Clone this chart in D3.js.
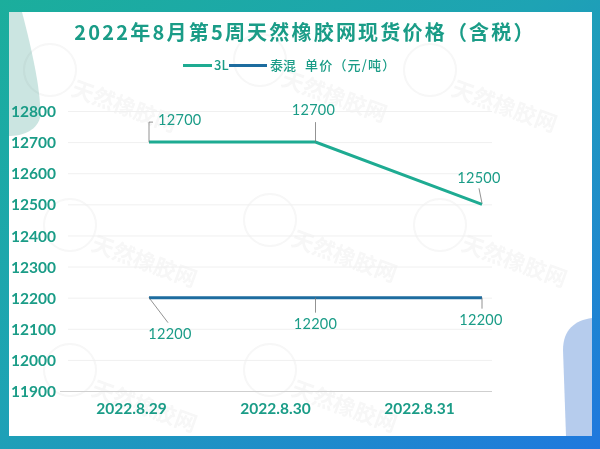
<!DOCTYPE html>
<html><head><meta charset="utf-8">
<script src="https://cdn.jsdelivr.net/npm/d3@7"></script>
<style>
html,body{margin:0;padding:0;background:#fff;}
svg{display:block;}
</style></head>
<body>
<script>
const categories = ["2022.8.29", "2022.8.30", "2022.8.31"];
const seriesNames = ["3L", "泰混"];
const values3L = [12700, 12700, 12500];
const valuesTH = [12200, 12200, 12200];
const yTicks = [11900, 12000, 12100, 12200, 12300, 12400, 12500, 12600, 12700, 12800];
const title = "2022年8月第5周天然橡胶网现货价格（含税）";
const unitText = "单价（元/吨）";

const W = 600, H = 449;
const colors = {"3L": "#1eab92", "泰混": "#1d6c9f"};
const textTeal = "#1a9c87";

const svg = d3.select("body").append("svg").attr("width", W).attr("height", H);
const defs = svg.append("defs");
const g1 = defs.append("linearGradient").attr("id", "frame").attr("x1", 0).attr("y1", 0).attr("x2", 1).attr("y2", 1);
g1.append("stop").attr("offset", "0%").attr("stop-color", "#1bae9c");
g1.append("stop").attr("offset", "45%").attr("stop-color", "#1ea3b4");
g1.append("stop").attr("offset", "100%").attr("stop-color", "#1f78de");

svg.append("rect").attr("width", W).attr("height", H).attr("fill", "url(#frame)");
svg.append("rect").attr("x", 9).attr("y", 12).attr("width", 583).attr("height", 424).attr("fill", "#ffffff");

// decorative shapes
svg.append("path").attr("d", "M9,12 L22,12 C32,50 42,95 40,118 C36,132 20,136 9,136 Z").attr("fill", "#b9dcd7").attr("opacity", 0.75);
svg.append("path").attr("d", "M592,318 C575,320 563,330 563,350 L566,436 L592,436 Z").attr("fill", "#a9c3ea").attr("opacity", 0.85);

// faint watermarks
const wm = [[70,95],[280,85],[450,95],[90,250],[290,245],[460,250],[90,395],[290,395]];
const wmg = svg.append("g").attr("opacity", 0.045);
wm.forEach(([x,y]) => {
  wmg.append("circle").attr("cx", x-20).attr("cy", y-25).attr("r", 26).attr("fill", "none").attr("stroke", "#444").attr("stroke-width", 2);
  wmg.append("text").attr("x", x).attr("y", y).attr("transform", `rotate(20,${x},${y})`)
    .attr("font-family", "Noto Sans CJK SC").attr("font-size", 22).attr("font-weight", 700).attr("fill", "#444").text("天然橡胶网");
});

// title
svg.append("text").attr("x", 305).attr("y", 40).attr("text-anchor", "middle")
  .attr("font-family", "Noto Sans CJK SC").attr("font-weight", 700).attr("font-size", 20)
  .attr("letter-spacing", 2.2).attr("fill", textTeal).text(title);

// legend
const lg = svg.append("g");
lg.append("line").attr("x1", 183).attr("x2", 212).attr("y1", 65.5).attr("y2", 65.5).attr("stroke", colors["3L"]).attr("stroke-width", 3);
lg.append("text").attr("x", 214).attr("y", 70).attr("font-family", "Noto Sans CJK SC").attr("font-weight", 500).attr("font-size", 13).attr("fill", textTeal).text(seriesNames[0]);
lg.append("line").attr("x1", 229).attr("x2", 267).attr("y1", 65.5).attr("y2", 65.5).attr("stroke", colors["泰混"]).attr("stroke-width", 3);
lg.append("text").attr("x", 270).attr("y", 70).attr("font-family", "Noto Sans CJK SC").attr("font-weight", 500).attr("font-size", 13).attr("fill", textTeal).text(seriesNames[1]);
lg.append("text").attr("x", 305).attr("y", 70).attr("font-family", "Noto Sans CJK SC").attr("font-weight", 500).attr("font-size", 13).attr("letter-spacing", 1.2).attr("fill", textTeal).text(unitText);

// scales
const y = d3.scaleLinear().domain([11900, 12800]).range([391, 111]);
const x = d3.scalePoint().domain(categories).range([149, 482]);
const xLab = d3.scalePoint().domain(categories).range([131, 419]);

// grid
svg.append("g").selectAll("line").data(yTicks).join("line")
  .attr("x1", d => d === 11900 ? 60 : 68).attr("x2", 492)
  .attr("y1", d => y(d) + 0.5).attr("y2", d => y(d) + 0.5)
  .attr("stroke", d => d === 11900 ? "#cfcfcf" : "#f0f0f0").attr("stroke-width", 1);

// y axis
const yAxis = d3.axisLeft(y).tickValues(yTicks).tickSize(0).tickPadding(0).tickFormat(d3.format("d"));
const ya = svg.append("g").attr("transform", "translate(56,0)").call(yAxis);
ya.select(".domain").remove();
ya.selectAll("text").attr("font-family", "Lato").attr("font-weight", 700).attr("font-size", 15.5)
  .attr("fill", textTeal).attr("dy", "0.36em");

// x axis labels
const xAxis = d3.axisBottom(xLab).tickSize(0).tickPadding(0);
const xa = svg.append("g").attr("transform", "translate(0,402)").call(xAxis);
xa.select(".domain").remove();
xa.selectAll("text").attr("font-family", "Lato").attr("font-weight", 700).attr("font-size", 15.5)
  .attr("fill", textTeal).attr("dy", "0.75em");

// lines
const line = d3.line().x((d, i) => x(categories[i])).y(d => y(d));
svg.append("path").datum(values3L).attr("d", line).attr("fill", "none").attr("stroke", colors["3L"]).attr("stroke-width", 3);
svg.append("path").datum(valuesTH).attr("d", line).attr("fill", "none").attr("stroke", colors["泰混"]).attr("stroke-width", 3);

// data labels (leader offsets relative to point)
const labelCfg3L = [
  {path: [[0,0],[0,-20],[4,-20]], tx: 9, ty: -17, anchor: "start"},
  {path: [[0,0],[0,-20]], tx: -2, ty: -27, anchor: "middle"},
  {path: [[0,-1],[-3,-16]], tx: -3, ty: -21, anchor: "middle"}
];
const labelCfgTH = [
  {path: [[0,0],[19,25]], tx: 21, ty: 41, anchor: "middle"},
  {path: [[0,0],[0,15]], tx: 0, ty: 31, anchor: "middle"},
  {path: [[0,0],[0,11]], tx: -1, ty: 27, anchor: "middle"}
];
function labels(vals, cfg) {
  const g = svg.append("g");
  vals.forEach((v, i) => {
    const px = x(categories[i]), py = y(v), c = cfg[i];
    g.append("path").attr("d", d3.line()(c.path.map(p => [px + p[0], py + p[1]])))
      .attr("fill", "none").attr("stroke", "#777").attr("stroke-width", 0.8);
    g.append("text").attr("x", px + c.tx).attr("y", py + c.ty).attr("text-anchor", c.anchor)
      .attr("font-family", "Lato").attr("font-size", 14.5).attr("letter-spacing", 0.3)
      .attr("fill", textTeal).text(v);
  });
}
labels(values3L, labelCfg3L);
labels(valuesTH, labelCfgTH);
</script>
</body></html>
